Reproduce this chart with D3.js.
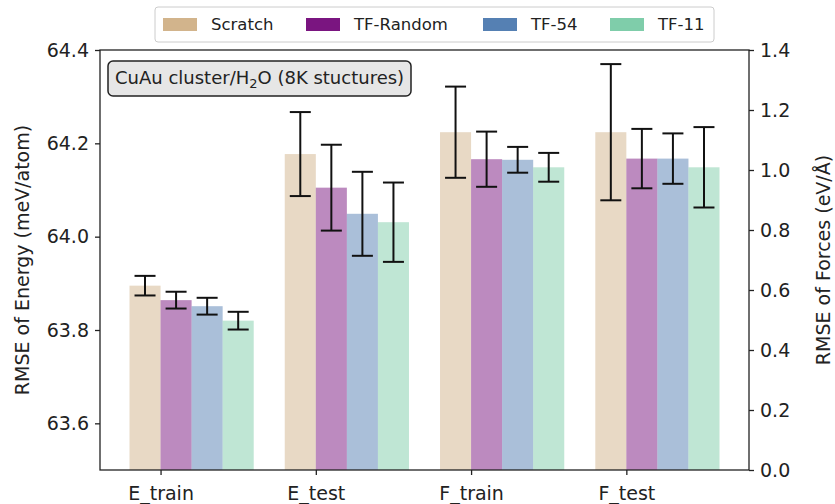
<!DOCTYPE html>
<html>
<head>
<meta charset="utf-8">
<script src="https://cdn.jsdelivr.net/npm/d3@7"></script>
<style>
  html, body { margin: 0; padding: 0; background: #fff; }
  svg { display: block; font-family: "DejaVu Sans", sans-serif; }
</style>
</head>
<body>
<svg id="chart" width="835" height="504"></svg>
<script>
// Metric groups on the x axis; the first two read on the energy axis, the last two on the forces axis
const categories = ["E_train", "E_test", "F_train", "F_test"];
const categoryAxis = ["energy", "energy", "force", "force"];

// Training strategies
const seriesNames = ["Scratch", "TF-Random", "TF-54", "TF-11"];
const seriesColors = ["#d2b48c", "#7a1580", "#5580b3", "#7fcdaa"];

// RMSE means per strategy (meV/atom for E_*, eV/Å for F_*)
const scratchMean   = [63.895, 64.177, 1.126, 1.126];
const tfRandomMean  = [63.864, 64.105, 1.036, 1.038];
const tf54Mean      = [63.851, 64.049, 1.034, 1.038];
const tf11Mean      = [63.820, 64.031, 1.009, 1.009];

// Standard deviations
const scratchErr    = [0.021, 0.090, 0.152, 0.227];
const tfRandomErr   = [0.018, 0.092, 0.092, 0.099];
const tf54Err       = [0.018, 0.090, 0.043, 0.084];
const tf11Err       = [0.019, 0.085, 0.048, 0.134];

// Tick values
const energyTicks = [63.6, 63.8, 64.0, 64.2, 64.4];
const forceTicks  = [0.0, 0.2, 0.4, 0.6, 0.8, 1.0, 1.2, 1.4];

const means = [scratchMean, tfRandomMean, tf54Mean, tf11Mean];
const errs  = [scratchErr, tfRandomErr, tf54Err, tf11Err];

const svg = d3.select("#chart");
const plotLeft = 100, plotRight = 749, plotTop = 50, plotBottom = 470;
const barW = 0.2;

const x = d3.scaleLinear().domain([-0.39, 3.79]).range([plotLeft, plotRight]);
const yE = d3.scaleLinear().domain([63.5, 64.4]).range([plotBottom, plotTop]);
const yF = d3.scaleLinear().domain([0, 1.4]).range([plotBottom, plotTop]);
const yFor = i => categoryAxis[i] === "energy" ? yE : yF;

// flatten to one record per bar
const bars = [];
seriesNames.forEach((name, s) => {
  categories.forEach((cat, i) => {
    bars.push({ s, i, v: means[s][i], e: errs[s][i] });
  });
});

// bars
svg.append("g").selectAll("rect").data(bars).join("rect")
  .attr("x", d => x(d.i - 0.2 + barW * d.s))
  .attr("width", d => x(barW) - x(0))
  .attr("y", d => yFor(d.i)(d.v))
  .attr("height", d => plotBottom - yFor(d.i)(d.v))
  .attr("fill", d => seriesColors[d.s])
  .attr("fill-opacity", 0.5);

// error bars
const eb = svg.append("g").attr("stroke", "#111").attr("stroke-width", 2);
bars.forEach(d => {
  const cx = x(d.i - 0.1 + barW * d.s);
  const y = yFor(d.i);
  const y0 = y(d.v - d.e), y1 = y(d.v + d.e);
  eb.append("line").attr("x1", cx).attr("x2", cx).attr("y1", y0).attr("y2", y1);
  eb.append("line").attr("x1", cx - 10.5).attr("x2", cx + 10.5).attr("y1", y0).attr("y2", y0);
  eb.append("line").attr("x1", cx - 10.5).attr("x2", cx + 10.5).attr("y1", y1).attr("y2", y1);
});

// axes
const tickFont = "19px";
const axL = svg.append("g").attr("transform", `translate(${plotLeft},0)`)
  .call(d3.axisLeft(yE).tickValues(energyTicks).tickFormat(d3.format(".1f")).tickSize(5).tickPadding(6));
const axR = svg.append("g").attr("transform", `translate(${plotRight},0)`)
  .call(d3.axisRight(yF).tickValues(forceTicks).tickFormat(d3.format(".1f")).tickSize(5).tickPadding(6));
const axB = svg.append("g").attr("transform", `translate(0,${plotBottom})`)
  .call(d3.axisBottom(x).tickValues(d3.range(categories.length)).tickFormat(i => categories[i]).tickSize(5).tickPadding(12));
[axL, axR, axB].forEach(a => {
  a.select(".domain").remove();
  a.selectAll("line").attr("stroke", "#222").attr("stroke-width", 1.3);
  a.selectAll("text").attr("fill", "#222").style("font-size", tickFont)
    .style("font-family", "DejaVu Sans");
});

// frame
svg.append("rect").attr("x", plotLeft).attr("y", plotTop)
  .attr("width", plotRight - plotLeft).attr("height", plotBottom - plotTop)
  .attr("fill", "none").attr("stroke", "#222").attr("stroke-width", 1.3);

// axis titles
svg.append("text")
  .attr("transform", `translate(29,${(plotTop + plotBottom) / 2}) rotate(-90)`)
  .attr("text-anchor", "middle").attr("fill", "#222").style("font-size", "19px")
  .text("RMSE of Energy (meV/atom)");
svg.append("text")
  .attr("transform", `translate(830,${(plotTop + plotBottom) / 2}) rotate(-90)`)
  .attr("text-anchor", "middle").attr("fill", "#222").style("font-size", "19px")
  .text("RMSE of Forces (eV/Å)");

// annotation box
const ann = svg.append("g");
ann.append("rect").attr("x", 108).attr("y", 61).attr("width", 303).attr("height", 35)
  .attr("rx", 5).attr("fill", "#e6e6e6").attr("stroke", "#222").attr("stroke-width", 1.5);
const at = ann.append("text").attr("x", 115).attr("y", 84).attr("fill", "#222").style("font-size", "18px");
at.append("tspan").text("CuAu cluster/H");
at.append("tspan").attr("dy", 4).style("font-size", "13px").text("2");
at.append("tspan").attr("dy", -4).text("O (8K stuctures)");

// legend
const lg = svg.append("g");
lg.append("rect").attr("x", 155).attr("y", 7).attr("width", 559).attr("height", 35)
  .attr("rx", 3).attr("fill", "#fff").attr("stroke", "#ccc").attr("stroke-width", 1);
const legX = [163, 306, 483, 610];
seriesNames.forEach((name, s) => {
  lg.append("rect").attr("x", legX[s]).attr("y", 18).attr("width", 34).attr("height", 13)
    .attr("fill", seriesColors[s]);
  lg.append("text").attr("x", legX[s] + 48).attr("y", 30).attr("fill", "#222")
    .style("font-size", "16.5px").text(name);
});
</script>
</body>
</html>
